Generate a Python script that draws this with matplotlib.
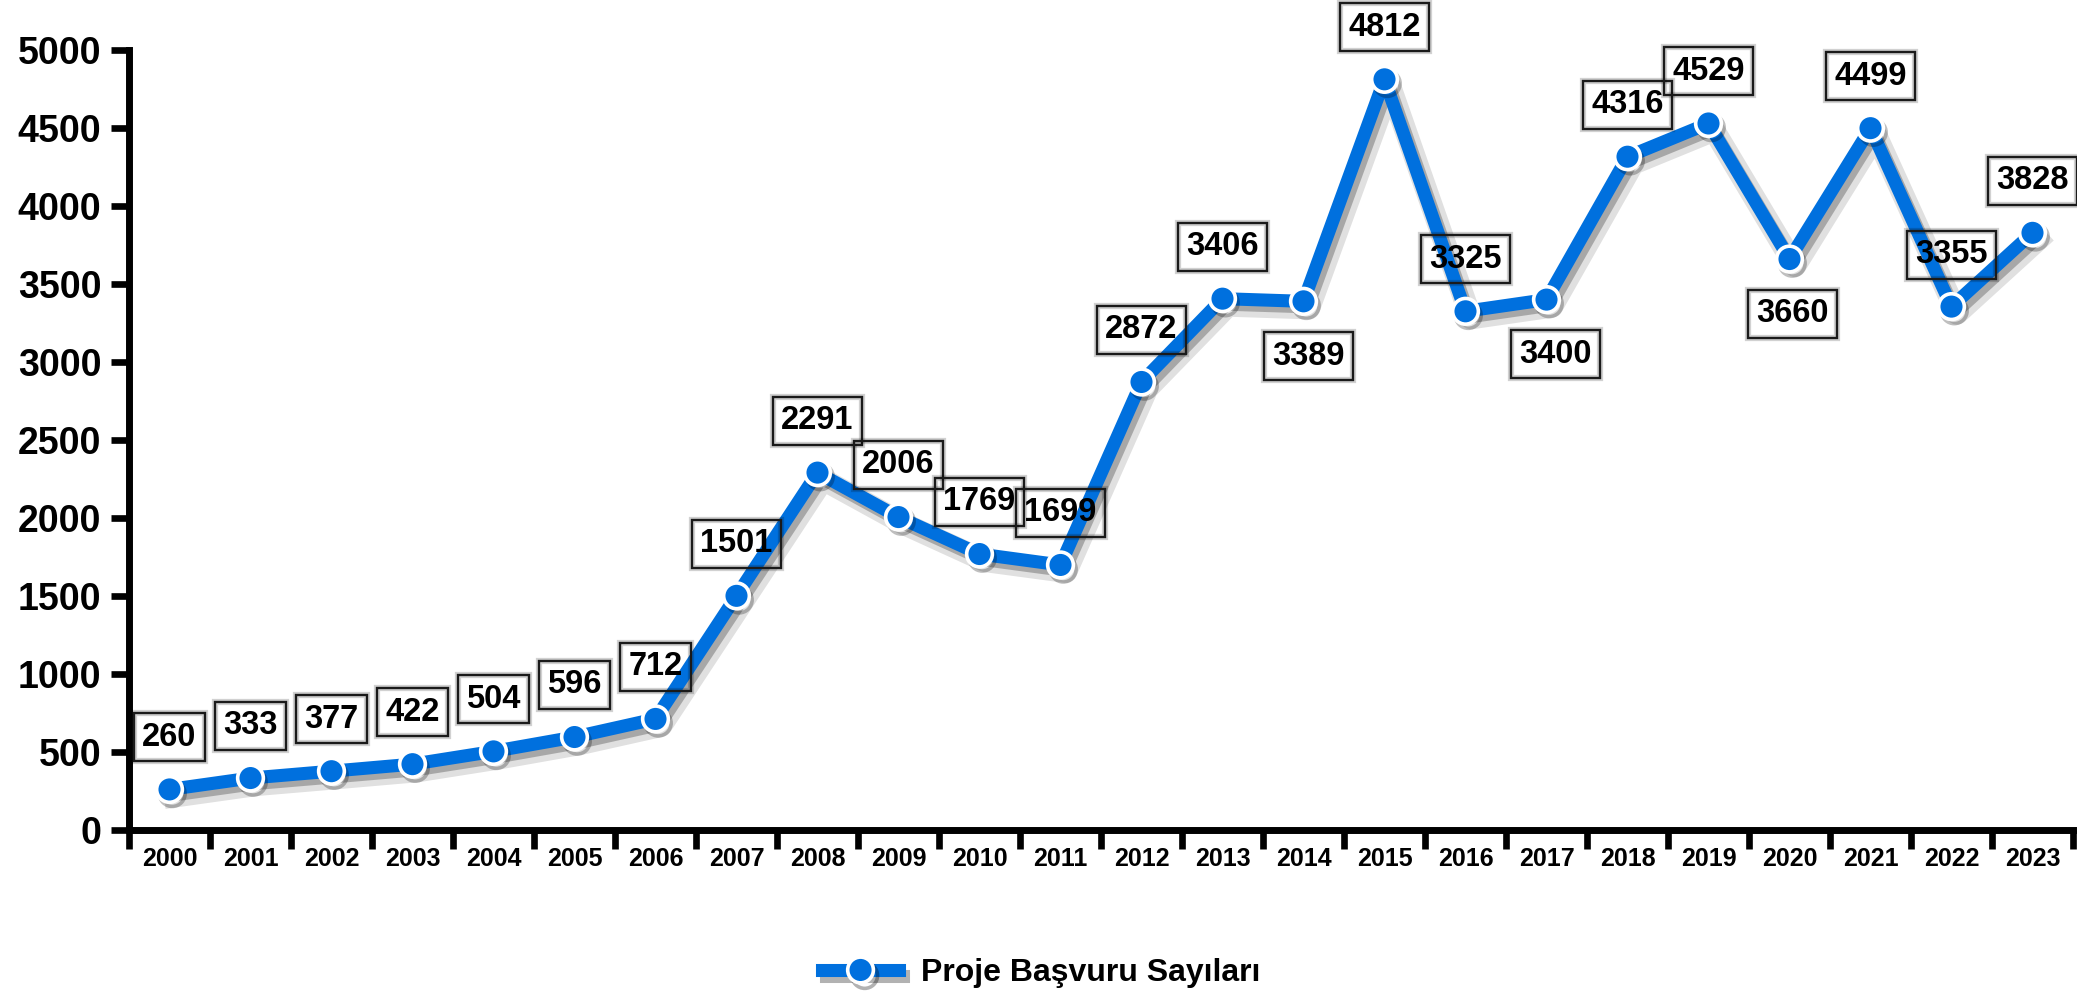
import numpy as np
import matplotlib
matplotlib.use('Agg')
import matplotlib.pyplot as plt
import matplotlib.patheffects as pe
from matplotlib.lines import Line2D

# Data
years = ['2000', '2001', '2002', '2003', '2004', '2005', '2006', '2007',
         '2008', '2009', '2010', '2011', '2012', '2013', '2014', '2015',
         '2016', '2017', '2018', '2019', '2020', '2021', '2022', '2023']
applications = [260, 333, 377, 422, 504, 596, 712, 1501, 2291, 2006, 1769,
                1699, 2872, 3406, 3389, 4812, 3325, 3400, 4316, 4529, 3660,
                4499, 3355, 3828]
series_name = 'Proje Başvuru Sayıları'
yticks = [0, 500, 1000, 1500, 2000, 2500, 3000, 3500, 4000, 4500, 5000]

# labels that sit under their point (index -> x shift in points)
below_labels = {14: 3.5, 17: 6.5, 20: 2.0}

BLUE = '#0070DE'
plt.rcParams['font.family'] = ['Liberation Sans', 'DejaVu Sans']
plt.rcParams['font.weight'] = 'bold'

fig = plt.figure(figsize=(20.77, 9.93), dpi=100)
ax = fig.add_axes([129 / 2077, 1 - 830 / 993, (2073 - 129) / 2077, (830 - 50) / 993])

x = np.arange(len(years))

# the line with a soft drop shadow, then the markers on top
line_fx = [pe.SimpleLineShadow(offset=(4, -5), shadow_color='black', alpha=0.12, linewidth=16),
           pe.SimpleLineShadow(offset=(3, -4), shadow_color='black', alpha=0.25), pe.Normal()]
ax.plot(x, applications, color=BLUE, lw=9.4, solid_joinstyle='round',
        path_effects=line_fx, zorder=3, clip_on=False)
ax.plot(x, applications, 'o', ms=18.5, mfc=BLUE, mec='white', mew=2.6,
        zorder=4, clip_on=False,
        path_effects=[pe.SimpleLineShadow(offset=(2, -3), shadow_color='black', alpha=0.25), pe.Normal()])

# value labels in see-through boxes
for i, v in enumerate(applications):
    if i in below_labels:
        off = (below_labels[i], -39.5)
    else:
        off = (0, 37.5)
    t = ax.annotate(str(v), (x[i], v), xytext=off, textcoords='offset points',
                    ha='center', va='center', fontsize=23.5, fontweight='bold',
                    zorder=6, annotation_clip=False,
                    bbox=dict(boxstyle='square,pad=0.26', fc='none', ec='#1a1a1a', lw=1.7))
    t.get_bbox_patch().set_path_effects([
        pe.Stroke(linewidth=4.5, foreground='black', alpha=0.18), pe.Normal()])

ax.set_xlim(-0.5, 23.5)
ax.set_ylim(0, 5000)

for s in ['top', 'right']:
    ax.spines[s].set_visible(False)
for s in ['left', 'bottom']:
    ax.spines[s].set_linewidth(5)

# ticks between the categories, labels at the categories
ax.set_xticks(np.arange(-0.5, 24, 1))
ax.set_xticklabels([])
ax.set_xticks(x, minor=True)
ax.set_xticklabels(years, minor=True)
ax.tick_params(axis='x', which='major', length=14, width=4.8, direction='out')
ax.tick_params(axis='x', which='minor', length=0, labelsize=18, pad=12)

ax.set_yticks(yticks)
ax.set_yticklabels([str(t) for t in yticks])
ax.tick_params(axis='y', length=13, width=4.8, direction='out', labelsize=27, pad=7)
for lab in ax.get_xticklabels(minor=True) + ax.get_yticklabels():
    lab.set_fontweight('bold')

# legend
handle = Line2D([], [], color=BLUE, lw=9.4, marker='o', ms=18.5, mfc=BLUE,
                mec='white', mew=2.6,
                path_effects=[pe.SimpleLineShadow(offset=(3, -4), shadow_color='black', alpha=0.3), pe.Normal()])
fig.legend(handles=[handle], labels=[series_name], loc='center',
           bbox_to_anchor=(0.5014, 0.02), frameon=False, numpoints=1,
           handlelength=2.4, handletextpad=0.7,
           prop={'size': 23, 'weight': 'bold'})

fig.savefig('out.png', dpi=100, facecolor='white')
